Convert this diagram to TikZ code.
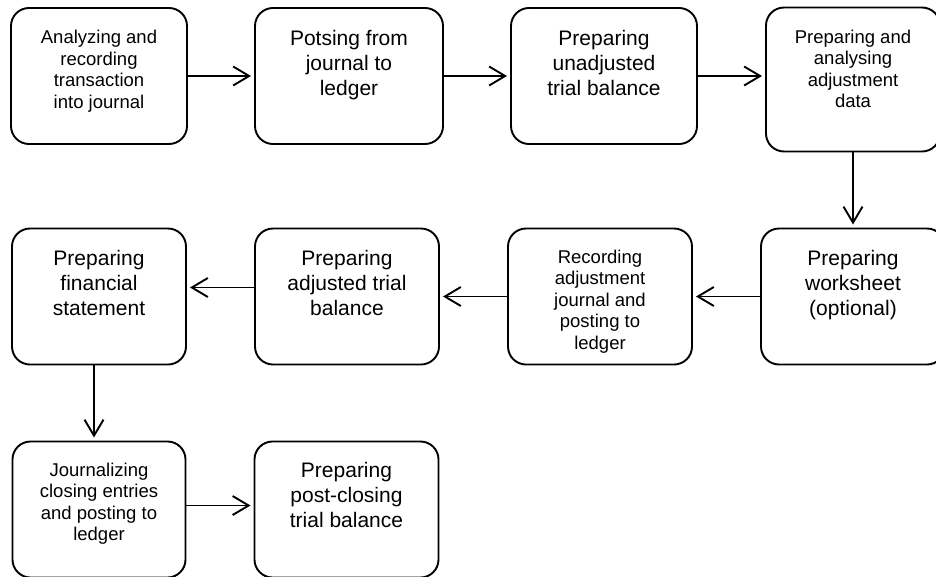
\documentclass[tikz,border=0pt]{standalone}
\usepackage{fontspec}
\setmainfont{Liberation Sans}
\usetikzlibrary{arrows.meta,chains,positioning,scopes}
\tikzset{
    stepbox/.style = {
        draw,
        line width=1.9pt,
        rounded corners=18pt,
        minimum height=136pt,
        outer sep=0pt,
        on chain,
        },
    small text/.style = {
        inner sep=0pt,
        align=center,
        font=\fontsize{18.5}{21.5}\selectfont,
        },
    big text/.style = {
        inner sep=0pt,
        align=center,
        font=\fontsize{21}{25}\selectfont,
        },
    flow/.style = {
        -{Straight Barb[length=16pt, width=19pt]},
        line width=1.9pt,
        shorten >=4pt,
        },
}

\begin{document}
\begin{tikzpicture}[
            start chain,
            node distance = 68pt,
            ]
            \useasboundingbox (0,0) rectangle (936pt,-576pt);

            { start chain = going right
            \node [stepbox, minimum width=176pt, at={(11pt,-8pt)}, anchor=north west] (analyse) {};
            \node [stepbox, minimum width=188pt] (posting) {};
            \node [stepbox, minimum width=186pt] (unadjusted) {};
            \node [stepbox, minimum width=174pt, minimum height=144pt, yshift=-3.5pt, xshift=1pt] (adjdata) {};

            { [continue chain = going below, node distance=77pt]
            \chainin (adjdata);
            \node [stepbox, minimum width=184pt] (worksheet) {};
            }

            { [continue chain = going left, node distance=69pt]
            \chainin (worksheet);
            \node [stepbox, minimum width=184pt] (recording) {};
            \node [stepbox, minimum width=184pt] (adjusted) {};
            \node [stepbox, minimum width=174pt] (financial) {};
            }

            { [continue chain = going below, node distance=77pt]
            \chainin (financial);
            \node [stepbox, minimum width=173pt] (closing) {};
            }

            { [continue chain = going right, node distance=69pt]
            \chainin (closing);
            \node [stepbox, minimum width=184pt] (postclosing) {};
            }
            }

            % texts sit near the top of each box
            \node [small text, below=22pt of analyse.north] (analyse text) {Analyzing and\\recording\\transaction\\into journal};
            \node [big text, below=22pt of posting.north] (posting text) {Potsing from\\journal to\\ledger};
            \node [big text, below=22pt of unadjusted.north] (unadjusted text) {Preparing\\unadjusted\\trial balance};
            \node [small text, below=22pt of adjdata.north] (adjdata text) {Preparing and\\analysing\\adjustment\\data};
            \node [big text, below=22pt of worksheet.north] (worksheet text) {Preparing\\worksheet\\(optional)};
            \node [small text, below=21pt of recording.north] (recording text) {Recording\\adjustment\\journal and\\posting to\\ledger};
            \node [big text, below=22pt of adjusted.north] (adjusted text) {Preparing\\adjusted trial\\balance};
            \node [big text, below=22pt of financial.north] (financial text) {Preparing\\financial\\statement};
            \node [small text, below=21pt of closing.north] (closing text) {Journalizing\\closing entries\\and posting to\\ledger};
            \node [big text, below=21pt of postclosing.north] (postclosing text) {Preparing\\post-closing\\trial balance};

            \draw [flow] (analyse) -- (posting);
            \draw [flow] (posting) -- (unadjusted);
            \draw [flow] (unadjusted.east) -- (unadjusted.east -| adjdata.west);
            \draw [flow] (adjdata) -- (worksheet);
            \draw [flow] (worksheet) -- (recording);
            \draw [flow] (recording) -- (adjusted);
            \draw [flow] ([yshift=9pt]adjusted.west) -- ([yshift=9pt]financial.east);
            \draw [flow] ([xshift=-5pt]financial.south) -- ([xshift=-5pt]closing.north);
            \draw [flow] ([yshift=4pt]closing.east) -- ([yshift=4pt]postclosing.west);
\end{tikzpicture}
\end{document}
